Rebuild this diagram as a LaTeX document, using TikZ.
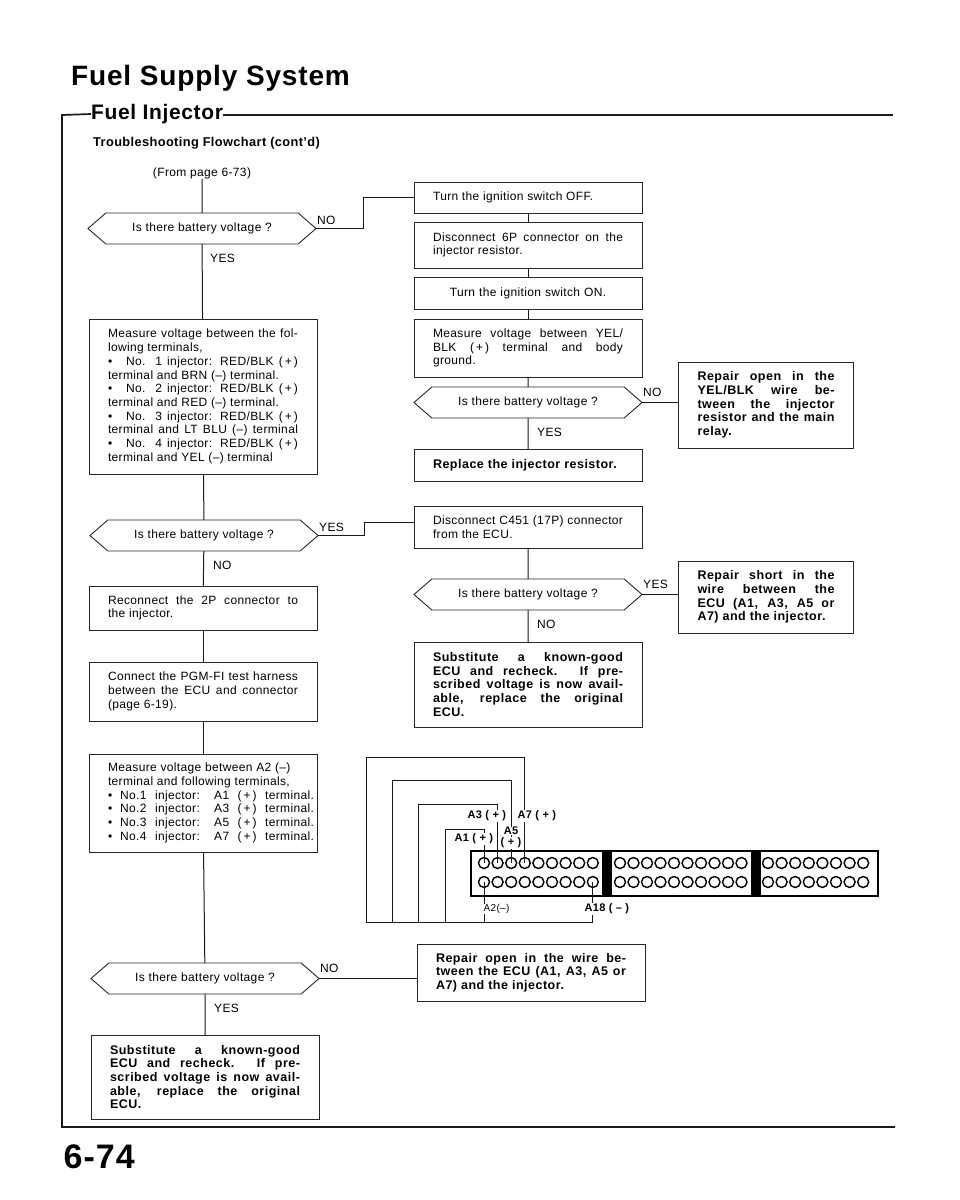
\documentclass[tikz,border=0pt]{standalone}
\usepackage{fontspec}
\setmainfont{Liberation Sans}[LetterSpace=3]
\newfontface\widebold{Liberation Sans Bold}[LetterSpace=4]
\usetikzlibrary{positioning, shapes.symbols}

\begin{document}
\begin{tikzpicture}[
    wire/.style={draw=black!90, line width=1pt},
    frame/.style={draw=black!90, line width=1.7pt},
    flowbox/.style={draw=black!85, line width=0.9pt, outer sep=0pt, minimum width=228pt,
      inner xsep=19pt, inner ysep=0pt, text width=190pt, align=justify,
      font=\fontsize{12}{13.7}\selectfont,
      execute at begin node={\hyphenpenalty=10000 \tolerance=9999 \hbadness=10000 \hfuzz=40pt}},
    fixbox/.style={flowbox, font=\fontsize{12.5}{13.7}\widebold},
    askbox/.style={shape=signal, signal to=west and east, signal pointer angle=82,
      draw=black!85, line width=0.9pt, outer sep=0pt,
      minimum width=228pt, minimum height=31pt, inner sep=0pt,
      font=\fontsize{12}{13.7}\selectfont},
    tag/.style={inner sep=0pt, font=\fontsize{12}{13}\selectfont},
    pintag/.style={fill=white, inner sep=0.5pt, font=\fontsize{11}{12}\selectfont\bfseries},
    pin/.style={circle, draw=black, line width=1.4pt, minimum size=11pt, inner sep=0pt, outer sep=0pt}
  ]
  \useasboundingbox (0pt,0pt) rectangle (960pt,-1200pt);
  % Heading
  \node[anchor=west, inner sep=0pt, font=\fontsize{28}{30}\selectfont\bfseries] (title) at (71pt,-78pt) {Fuel Supply System};
  \node[anchor=west, inner sep=0pt, font=\fontsize{21}{24}\selectfont\bfseries] (sect) at (91pt,-114pt) {Fuel Injector};
  \node[anchor=west, inner sep=0pt, font=\fontsize{12.8}{15}\selectfont\bfseries] (sub) at (93pt,-143pt) {Troubleshooting Flowchart (cont'd)};
  \node[anchor=south east, inner sep=0pt, font=\fontsize{34}{37}\selectfont\bfseries] (pageno) at (135pt,-1169pt) {6-74};
  \coordinate (ftl) at (62pt,-115pt);
  \coordinate (ftr) at (893pt,-115pt);
  \coordinate (fbl) at (62pt,-1127pt);
  \coordinate (fbr) at (895pt,-1127pt);
  \draw[frame] (sect.west) -- (ftl) -- (fbl) -- (fbr);
  \draw[frame] (sect.east |- ftr) -- (ftr);
  % Left column
  \node[tag] (from) at (202pt,-173pt) {(From page 6-73)};
  \node[askbox] (d1) at (202pt,-228.5pt) {Is there battery voltage ?};
  \node[flowbox, minimum height=155pt] (m1) [below=75pt of d1, xshift=1pt] {Measure voltage between the fol-\linebreak
    lowing terminals,\\
    \textbullet\hspace{14pt}No. 1 injector: RED/BLK (\,+\,)\linebreak
    terminal and BRN (--) terminal.\\
    \textbullet\hspace{14pt}No. 2 injector: RED/BLK (\,+\,)\linebreak
    terminal and RED (--) terminal.\\
    \textbullet\hspace{14pt}No. 3 injector: RED/BLK (\,+\,)\linebreak
    terminal and LT BLU (--) terminal\linebreak
    \textbullet\hspace{14pt}No. 4 injector: RED/BLK (\,+\,)\linebreak
    terminal and YEL (--) terminal};
  \node[askbox] (d2) [below=46pt of m1, xshift=1pt] {Is there battery voltage ?};
  \node[flowbox, minimum height=44pt] (m2) [below=35pt of d2, xshift=-1pt] {Reconnect the 2P connector to\linebreak the injector.};
  \node[flowbox, minimum height=59pt] (m3) [below=32pt of m2] {Connect the PGM-FI test harness\linebreak between the ECU and connector\linebreak (page 6-19).};
  \node[flowbox, minimum height=98pt] (m4) [below=33pt of m3] {Measure voltage between A2 (--)\\
    terminal and following terminals,\\
    \makebox[206pt][s]{\textbullet\hspace{8pt}No.1 injector: A1 (\,+\,) terminal.}\\
    \makebox[206pt][s]{\textbullet\hspace{8pt}No.2 injector: A3 (\,+\,) terminal.}\\
    \makebox[206pt][s]{\textbullet\hspace{8pt}No.3 injector: A5 (\,+\,) terminal.}\\
    \makebox[206pt][s]{\textbullet\hspace{8pt}No.4 injector: A7 (\,+\,) terminal.}};
  \node[askbox] (d3) [below=111pt of m4, xshift=2pt] {Is there battery voltage ?};
  \node[fixbox, minimum height=84pt] (m5) [below=41pt of d3] {Substitute a known-good\linebreak ECU and recheck. If pre-\linebreak scribed voltage is now avail-\linebreak able, replace the original\linebreak ECU.};
  % Right column
  \node[flowbox, minimum height=31pt] (s1) at (528pt,-197.5pt) {Turn the ignition switch OFF.};
  \node[flowbox, minimum height=46pt] (s2) [below=9pt of s1] {Disconnect 6P connector on the\linebreak injector resistor.};
  \node[flowbox, minimum height=32pt, align=center] (s3) [below=9pt of s2] {Turn the ignition switch ON.};
  \node[flowbox, minimum height=58pt] (s4) [below=10pt of s3] {Measure voltage between YEL/\linebreak BLK (\,+\,) terminal and body\linebreak ground.};
  \node[askbox] (d4) [below=10pt of s4] {Is there battery voltage ?};
  \node[fixbox, minimum height=32pt] (s5) [below=31pt of d4] {Replace the injector resistor.};
  \node[flowbox, minimum height=42pt] (s6) [below=25pt of s5] {Disconnect C451 (17P) connector\linebreak from the ECU.};
  \node[askbox] (d5) [below=31pt of s6] {Is there battery voltage ?};
  \node[fixbox, minimum height=85pt] (s7) [below=32pt of d5] {Substitute a known-good\linebreak ECU and recheck. If pre-\linebreak scribed voltage is now avail-\linebreak able, replace the original\linebreak ECU.};
  % Repair boxes
  \node[fixbox, minimum width=175pt, text width=137pt, minimum height=86pt] (r1) at (766pt,-405pt) {Repair open in the\linebreak YEL/BLK wire be-\linebreak tween the injector\linebreak resistor and the main\linebreak relay.};
  \node[fixbox, minimum width=175pt, text width=137pt, minimum height=72pt] (r2) [below=113pt of r1] {Repair short in the\linebreak wire between the\linebreak ECU (A1, A3, A5 or\linebreak A7) and the injector.};
  \node[fixbox, minimum height=57pt] (r3) at (531pt,-972.5pt) {Repair open in the wire be-\linebreak tween the ECU (A1, A3, A5 or\linebreak A7) and the injector.};
  % Branch labels
  \node[tag] (no1) [above right=4pt and 1pt of d1.east] {NO};
  \node[tag] (yes1) [below right=10pt and 8pt of d1.south] {YES};
  \node[tag] (yes2) [above right=4pt and 1pt of d2.east] {YES};
  \node[tag] (no2) [below right=10pt and 9pt of d2.south] {NO};
  \node[tag] (no3) [above right=6pt and 1pt of d3.east] {NO};
  \node[tag] (yes3) [below right=10pt and 9pt of d3.south] {YES};
  \node[tag] (no4) [above right=6pt and 1pt of d4.east] {NO};
  \node[tag] (yes4) [below right=10pt and 9pt of d4.south] {YES};
  \node[tag] (yes5) [above right=6pt and 1pt of d5.east] {YES};
  \node[tag] (no5) [below right=10pt and 9pt of d5.south] {NO};
  % Edges
  \path[wire]
    (from) edge (d1)
    (d1) edge (m1)
    (m1) edge (d2)
    (d2) edge (m2)
    (m2) edge (m3)
    (m3) edge (m4)
    (m4) edge (d3)
    (d3) edge (m5)
    (s1) edge (s2)
    (s2) edge (s3)
    (s3) edge (s4)
    (s4) edge (d4)
    (d4) edge (s5)
    (s6) edge (d5)
    (d5) edge (s7)
    (d4.east) edge (d4.east -| r1.west)
    (d5.east) edge (d5.east -| r2.west)
    (d3.east) edge (d3.east -| r3.west);
  \coordinate (e1) at (363pt,-197.5pt);
  \coordinate (e2) at (364pt,-522pt);
  \draw[wire] (d1.east) -| (e1) -- (s1.west);
  \draw[wire] (d2.east) -| (e2) -- (e2 -| s6.west);
  % ECU connector
  \node[draw=black, line width=1.7pt, minimum width=407pt, minimum height=45pt, inner sep=0pt, outer sep=0pt] (conn) at (674.5pt,-873.5pt) {};
  \node[fill=black, minimum width=10pt, minimum height=45pt, inner sep=0pt] (bar1) at (607pt,-873.5pt) {};
  \node[fill=black, minimum width=10pt, minimum height=45pt, inner sep=0pt] (bar2) at (756pt,-873.5pt) {};
  \foreach \i in {1,...,9} {
    \node[pin] (a\i) at ({(484+(\i-1)*13.6)*1pt},-863pt) {};
    \node[pin] (b\i) at ({(484+(\i-1)*13.6)*1pt},-882pt) {};
  }
  \foreach \i in {1,...,10} {
    \node[pin] (c\i) at ({(620+(\i-1)*13.5)*1pt},-863pt) {};
    \node[pin] (f\i) at ({(620+(\i-1)*13.5)*1pt},-882pt) {};
  }
  \foreach \i in {1,...,8} {
    \node[pin] (g\i) at ({(768+(\i-1)*13.6)*1pt},-863pt) {};
    \node[pin] (h\i) at ({(768+(\i-1)*13.6)*1pt},-882pt) {};
  }
  % Wires to the pins
  \coordinate (k1) at (445pt,-829pt);
  \coordinate (k3) at (418pt,-804pt);
  \coordinate (k5) at (392pt,-780pt);
  \coordinate (k7) at (366pt,-757pt);
  \coordinate (bus) at (366pt,-922pt);
  \draw[wire] (a1.center) |- (k1) -- (k1 |- bus);
  \draw[wire] (a2.center) |- (k3) -- (k3 |- bus);
  \draw[wire] (a3.center) |- (k5) -- (k5 |- bus);
  \draw[wire] (a4.center) |- (k7) -- (bus);
  \draw[wire] (bus) -| (b9.center);
  \draw[wire] (b1.center) -- (b1 |- bus);
  \node[pintag, anchor=west] (la3) at (467pt,-816pt) {A3 ( + )};
  \node[pintag, anchor=west] (la7) at (517pt,-816pt) {A7 ( + )};
  \node[pintag] (la5) at (511pt,-831pt) {A5};
  \node[pintag] (lp5) at (511pt,-843pt) {( + )};
  \node[pintag, anchor=west] (la1) at (454pt,-839pt) {A1 ( + )};
  \node[pintag, anchor=west, font=\fontsize{10}{10}\selectfont] (la2) at (483pt,-909pt) {A2(--)};
  \node[pintag, anchor=west] (la18) at (584pt,-909pt) {A18 ( -- )};
\end{tikzpicture}
\end{document}
